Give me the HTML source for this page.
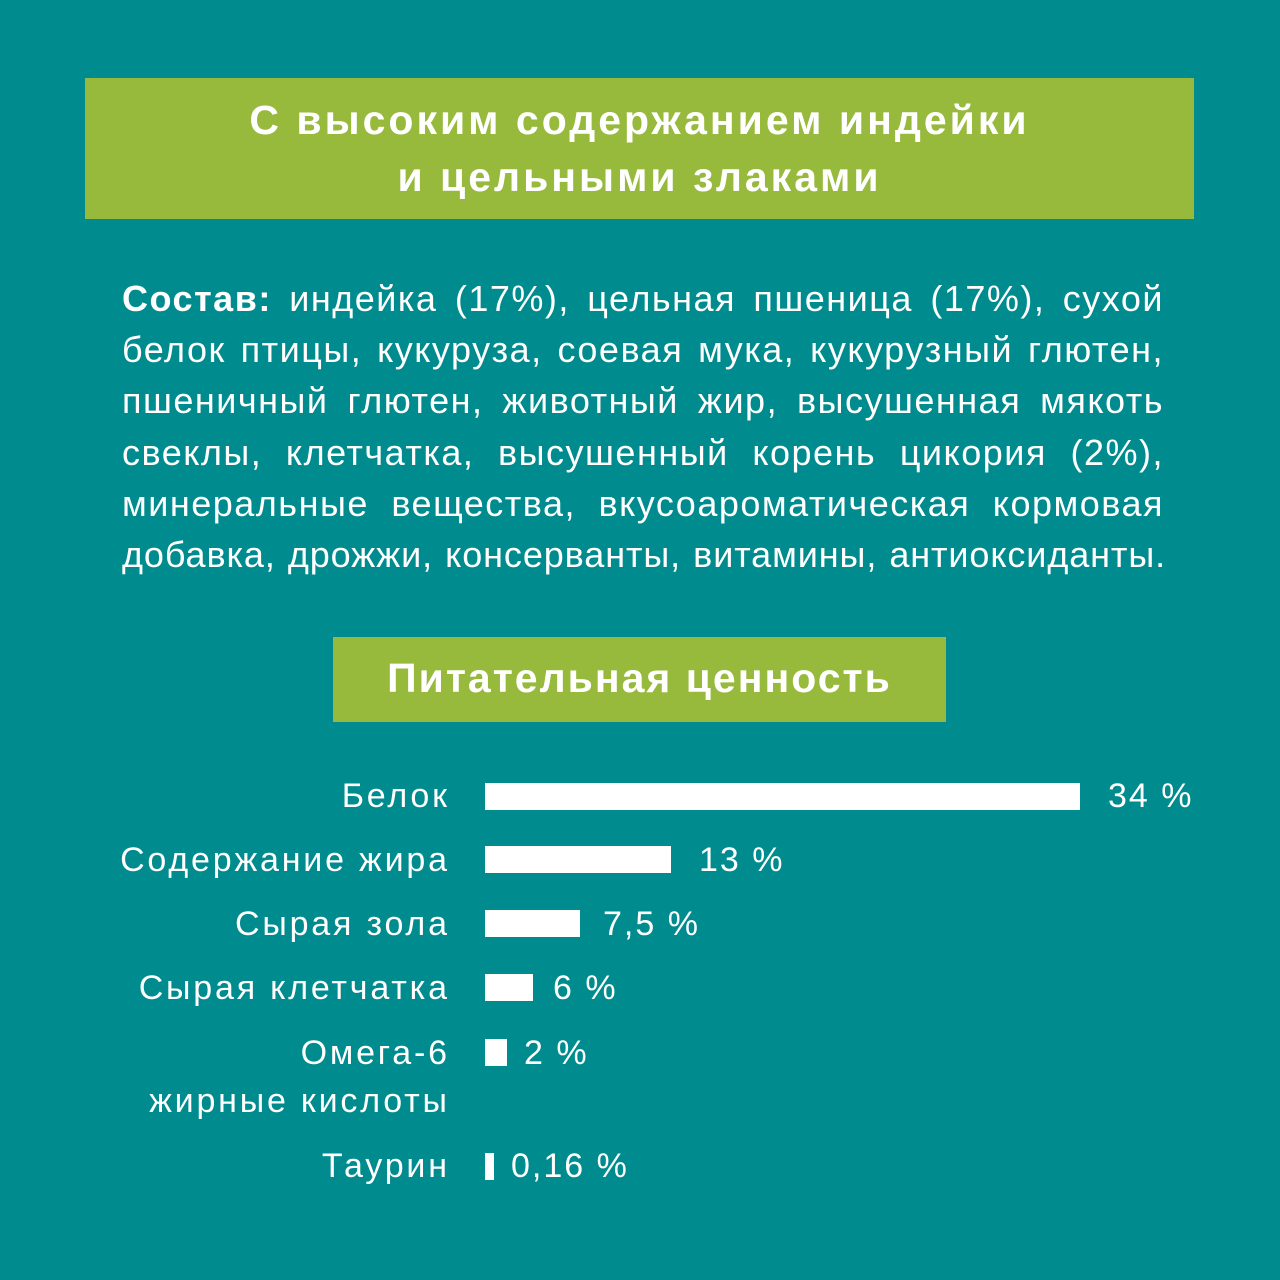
<!DOCTYPE html>
<html><head><meta charset="utf-8"><style>
html,body{margin:0;padding:0}
body{width:1280px;height:1280px;background:#008b8f;position:relative;overflow:hidden;font-family:"Liberation Sans","DejaVu Sans",sans-serif;color:#fff}
.b1{position:absolute;left:85px;top:78px;width:1109px;height:141px;background:#97b93c}
.t1{position:absolute;left:85px;width:1109px;text-align:center;font-weight:bold;font-size:41px;line-height:40px;letter-spacing:3px}
.p{position:absolute;left:122px;width:1042px;font-size:36px;letter-spacing:1.5px}
.p div{position:absolute;left:0;width:1042px;text-align:justify;text-align-last:justify;white-space:nowrap;height:40px;line-height:40px}
.b2{position:absolute;left:333px;top:637px;width:613px;height:85px;background:#97b93c}
.lab{position:absolute;right:833px;font-size:34px;line-height:38px;text-align:right;white-space:nowrap;letter-spacing:2.8px;margin-right:-2.8px}
.bar{position:absolute;left:485px;height:27px;background:#fff}
.val{position:absolute;font-size:34px;line-height:38px;white-space:nowrap;letter-spacing:2px}
</style></head><body>
<div class="b1"></div>
<div class="t1" style="top:100px">С высоким содержанием индейки</div>
<div class="t1" style="top:157px">и цельными злаками</div>
<div class="p">
<div style="top:279px"><b>Состав:</b> индейка (17%), цельная пшеница (17%), сухой</div>
<div style="top:330px">белок птицы, кукуруза, соевая мука, кукурузный глютен,</div>
<div style="top:381px">пшеничный глютен, животный жир, высушенная мякоть</div>
<div style="top:433px">свеклы, клетчатка, высушенный корень цикория (2%),</div>
<div style="top:484px">минеральные вещества, вкусоароматическая кормовая</div>
<div style="top:535px;letter-spacing:0.9px;width:1044px">добавка, дрожжи, консерванты, витамины, антиоксиданты.</div>
</div>
<div class="b2"></div>
<div class="t1" style="left:333px;width:613px;top:658px;letter-spacing:2px">Питательная ценность</div>

<div class="lab" style="top:777px">Белок</div>
<div class="bar" style="top:783px;width:595px"></div>
<div class="val" style="left:1108px;top:777px">34 %</div>

<div class="lab" style="top:841px">Содержание жира</div>
<div class="bar" style="top:846px;width:186px"></div>
<div class="val" style="left:699px;top:841px">13 %</div>

<div class="lab" style="top:905px">Сырая зола</div>
<div class="bar" style="top:910px;width:95px"></div>
<div class="val" style="left:603px;top:905px">7,5 %</div>

<div class="lab" style="top:969px">Сырая клетчатка</div>
<div class="bar" style="top:974px;width:48px"></div>
<div class="val" style="left:553px;top:969px">6 %</div>

<div class="lab" style="top:1034px">Омега-6<br><span style="display:inline-block;margin-top:10px">жирные кислоты</span></div>
<div class="bar" style="top:1039px;width:22px"></div>
<div class="val" style="left:524px;top:1034px">2 %</div>

<div class="lab" style="top:1147px">Таурин</div>
<div class="bar" style="top:1153px;width:9px"></div>
<div class="val" style="left:511px;top:1147px">0,16 %</div>
</body></html>
